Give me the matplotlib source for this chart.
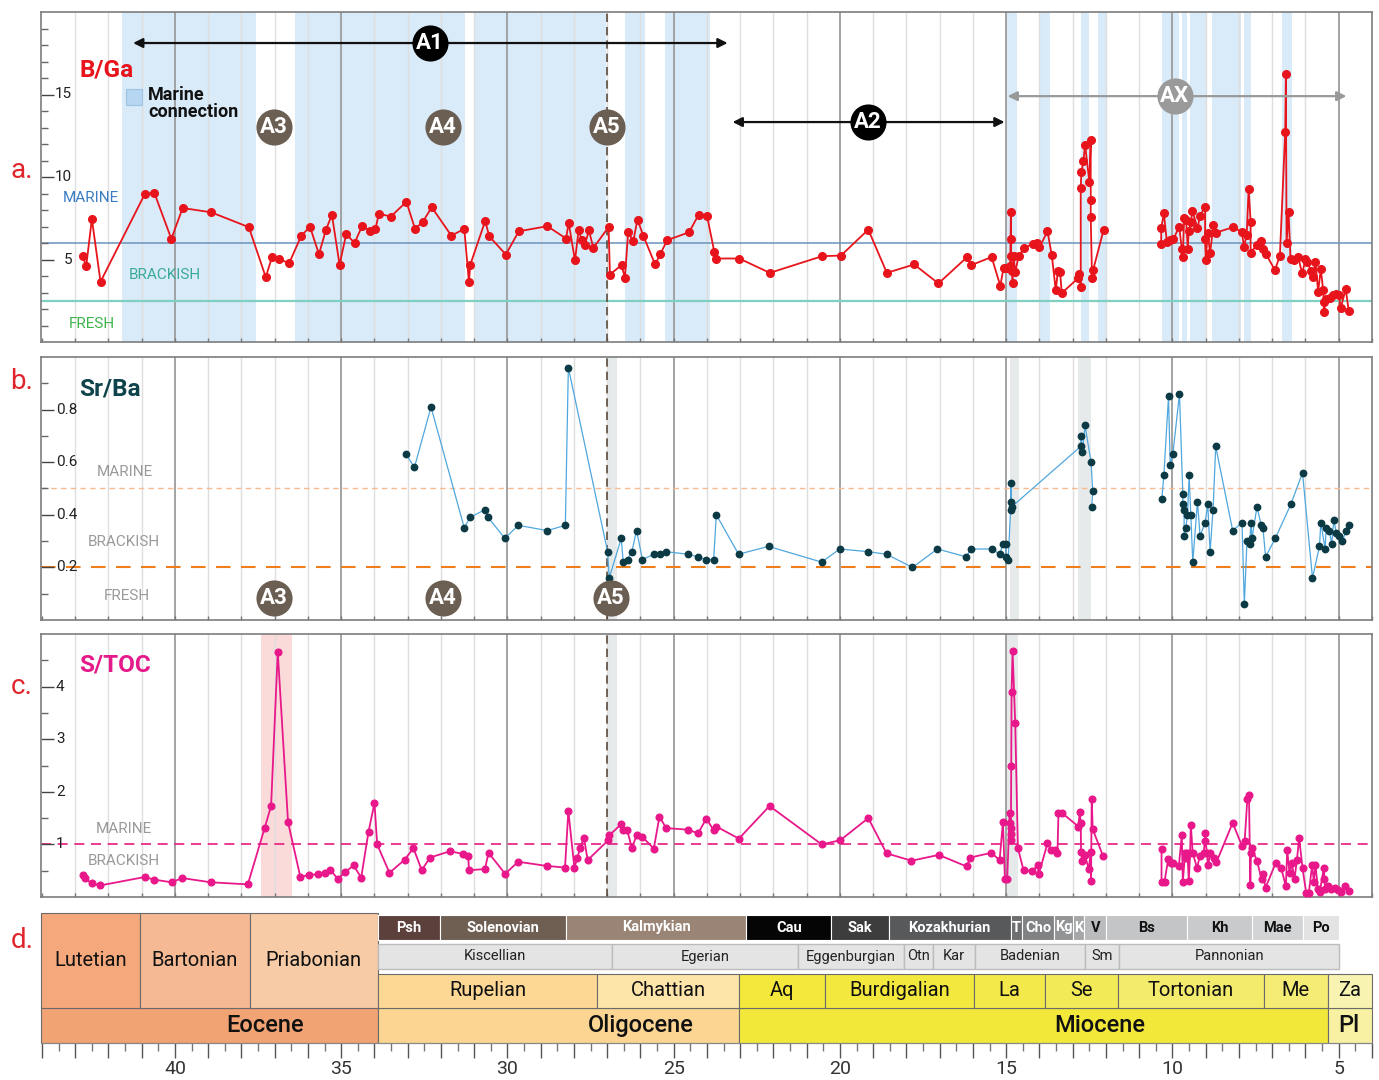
import numpy as np
import matplotlib
matplotlib.use("Agg")
import matplotlib.pyplot as plt
from matplotlib.patches import Rectangle
from matplotlib.ticker import FixedLocator, MultipleLocator, NullFormatter, FuncFormatter

plt.rcParams['font.family'] = ['Roboto', 'DejaVu Sans']

# ---------------- DATA ----------------
# Panel a: B/Ga (age Ma, value)
bga_age = [
    42.78, 42.67, 42.50, 42.24, 40.90, 40.62, 40.11, 39.77, 38.91, 37.78,
    37.27, 37.08, 36.88, 36.57, 36.20, 35.94, 35.67, 35.46, 35.28, 35.05,
    34.85, 34.60, 34.37, 34.14, 33.97, 33.87, 33.51, 33.04, 32.78, 32.54,
    32.28, 31.69, 31.30, 31.16, 31.12, 30.67, 30.55, 30.05, 29.66, 28.80,
    28.24, 28.16, 27.97, 27.86, 27.77, 27.68, 27.55, 27.42, 26.96, 26.92,
    26.57, 26.47, 26.37, 26.22, 26.09, 25.91, 25.56, 25.40, 25.20, 24.54,
    24.25, 24.00, 23.78, 23.72, 23.03, 22.11, 20.54, 19.97, 19.15, 18.59,
    17.77, 17.04, 16.18, 16.05, 15.44, 15.18, 15.08, 14.98, 14.88, 14.86,
    14.86, 14.86, 14.83, 14.81, 14.78, 14.73, 14.63, 14.46, 14.20, 14.08,
    14.00, 13.76, 13.63, 13.51, 13.45, 13.38, 13.33, 12.83, 12.80, 12.76,
    12.76, 12.74, 12.68, 12.63, 12.50, 12.46, 12.46, 12.46, 12.42, 12.39,
    12.07,
    10.34, 10.34, 10.26, 10.17, 10.09, 9.97, 9.80, 9.72, 9.69, 9.65,
    9.59, 9.54, 9.51, 9.45, 9.40, 9.25, 9.17, 9.02, 9.02, 9.00,
    8.94, 8.87, 8.77, 8.69, 8.19, 7.92, 7.85, 7.77, 7.71, 7.65,
    7.65, 7.47, 7.35, 7.27, 7.19, 6.92, 6.77, 6.61, 6.59, 6.57,
    6.51, 6.45, 6.34, 6.22, 6.10, 6.00, 5.94, 5.84, 5.77, 5.70,
    5.62, 5.54, 5.47, 5.45, 5.45, 5.37, 5.27, 5.17, 5.07, 5.00,
    4.94, 4.79, 4.70]
bga_val = [
    5.20, 4.60, 7.46, 3.65, 9.00, 9.03, 6.25, 8.12, 7.86, 6.96,
    3.93, 5.16, 5.06, 4.76, 6.45, 6.98, 5.32, 6.81, 7.70, 4.68,
    6.55, 6.00, 7.04, 6.75, 6.85, 7.78, 7.60, 8.50, 6.85, 7.30,
    8.17, 6.45, 6.85, 3.65, 4.68, 7.34, 6.41, 5.30, 6.71, 7.02,
    6.27, 7.22, 4.94, 6.81, 6.17, 5.85, 6.77, 5.70, 6.96, 4.09,
    4.66, 3.89, 6.69, 6.10, 7.42, 6.41, 4.70, 5.34, 6.17, 6.65,
    7.72, 7.66, 5.46, 5.06, 5.06, 4.19, 5.20, 5.24, 6.81, 4.19,
    4.70, 3.55, 5.14, 4.66, 5.15, 3.41, 4.48, 4.48, 4.59, 7.88,
    6.24, 5.19, 4.28, 3.58, 5.19, 4.22, 5.19, 5.70, 5.96, 6.00,
    5.74, 6.71, 5.25, 3.13, 4.28, 4.22, 2.97, 3.88, 4.14, 3.31,
    9.33, 10.30, 10.95, 11.96, 9.70, 12.26, 8.59, 7.58, 3.88, 4.34,
    6.81,
    5.92, 6.89, 7.80, 6.08, 6.18, 6.24, 6.99, 5.64, 5.17, 7.49,
    7.39, 5.62, 6.75, 7.25, 7.96, 6.89, 7.66, 8.20, 6.24, 4.97,
    6.63, 5.37, 7.09, 6.63, 6.95, 6.69, 5.78, 6.48, 9.27, 7.29,
    5.41, 5.88, 6.14, 5.62, 5.33, 4.36, 5.23, 12.75, 16.24, 5.98,
    7.90, 5.01, 4.97, 5.13, 4.16, 5.01, 4.87, 4.30, 3.92, 4.87,
    3.05, 4.42, 3.15, 2.44, 1.84, 2.59, 2.69, 2.85, 2.89, 2.85,
    2.08, 3.19, 1.90]

# Panel b: Sr/Ba
srba_age = [
    33.05, 32.80, 32.30, 31.30, 31.13, 30.67, 30.58, 30.08, 29.68, 28.80,
    28.26, 28.17, 26.99, 26.94, 26.58, 26.52, 26.39, 26.26, 26.12, 25.94,
    25.60, 25.42, 25.24, 24.57, 24.27, 24.02, 23.80, 23.72, 23.05, 22.15,
    20.55, 20.01, 19.17, 18.60, 17.82, 17.07, 16.20, 16.07, 15.44, 15.19,
    15.11, 15.02, 15.00, 14.94, 14.87, 14.86, 14.85, 14.84, 12.76, 12.75,
    12.71, 12.63, 12.45, 12.40, 12.43,
    10.32, 10.26, 10.12, 10.07, 9.99, 9.79, 9.69, 9.69, 9.65, 9.65,
    9.60, 9.55, 9.50, 9.45, 9.39, 9.25, 9.17, 9.02, 8.94, 8.87,
    8.78, 8.70, 8.19, 7.91, 7.84, 7.76, 7.68, 7.64, 7.61, 7.46,
    7.33, 7.28, 7.20, 6.91, 6.44, 6.09, 5.79, 5.58, 5.54, 5.41,
    5.38, 5.29, 5.21, 5.15, 5.07, 4.99, 4.90, 4.77, 4.68]
srba_val = [
    0.63, 0.58, 0.81, 0.35, 0.39, 0.42, 0.39, 0.31, 0.36, 0.34,
    0.36, 0.96, 0.26, 0.16, 0.31, 0.22, 0.23, 0.26, 0.34, 0.23,
    0.25, 0.25, 0.26, 0.25, 0.24, 0.23, 0.23, 0.40, 0.25, 0.28,
    0.22, 0.27, 0.26, 0.25, 0.20, 0.27, 0.24, 0.27, 0.27, 0.25,
    0.29, 0.29, 0.24, 0.23, 0.42, 0.52, 0.45, 0.43, 0.66, 0.70,
    0.64, 0.74, 0.60, 0.49, 0.43,
    0.46, 0.55, 0.85, 0.59, 0.63, 0.86, 0.48, 0.44, 0.42, 0.32,
    0.35, 0.40, 0.55, 0.40, 0.22, 0.45, 0.32, 0.37, 0.44, 0.26,
    0.42, 0.66, 0.34, 0.37, 0.06, 0.30, 0.29, 0.37, 0.31, 0.43,
    0.36, 0.35, 0.24, 0.31, 0.44, 0.56, 0.16, 0.28, 0.37, 0.27,
    0.35, 0.34, 0.29, 0.38, 0.33, 0.32, 0.30, 0.34, 0.36]

# Panel c: S/TOC
stoc_age = [
    42.78, 42.70, 42.51, 42.25, 40.91, 40.63, 40.10, 39.78, 38.93, 37.81,
    37.30, 37.11, 36.91, 36.60, 36.23, 35.98, 35.71, 35.48, 35.33, 35.10,
    34.89, 34.63, 34.40, 34.18, 34.00, 33.92, 33.55, 33.09, 32.83, 32.58,
    32.33, 31.73, 31.35, 31.18, 31.16, 30.68, 30.57, 30.07, 29.68, 28.81,
    28.27, 28.17, 27.99, 27.90, 27.81, 27.70, 27.59, 26.97, 26.94, 26.59,
    26.52, 26.40, 26.26, 26.12, 25.94, 25.60, 25.43, 25.23, 24.57, 24.27,
    24.02, 23.80, 23.72, 23.04, 22.12, 20.55, 19.99, 19.15, 18.60, 17.85,
    17.03, 16.19, 16.08, 15.45, 15.20, 15.10, 15.04, 14.97, 14.90, 14.88,
    14.87, 14.87, 14.86, 14.85, 14.84, 14.81, 14.73, 14.65, 14.48, 14.22,
    14.06, 14.02, 13.76, 13.64, 13.52, 13.46, 13.43, 13.31, 12.83, 12.79,
    12.76, 12.75, 12.72, 12.63, 12.52, 12.46, 12.45, 12.43, 12.40, 12.09,
    10.33, 10.33, 10.24, 10.13, 10.04, 9.97, 9.81, 9.72, 9.69, 9.62,
    9.59, 9.55, 9.51, 9.47, 9.45, 9.39, 9.26, 9.18, 9.06, 9.01,
    9.01, 8.96, 8.93, 8.86, 8.76, 8.68, 8.19, 7.91, 7.83, 7.75,
    7.70, 7.66, 7.64, 7.62, 7.46, 7.32, 7.28, 7.20, 6.90, 6.73,
    6.59, 6.55, 6.48, 6.41, 6.33, 6.26, 6.19, 6.09, 5.98, 5.90,
    5.80, 5.75, 5.70, 5.63, 5.57, 5.45, 5.43, 5.41, 5.32, 5.22,
    5.12, 5.02, 4.92, 4.80, 4.70]
stoc_val = [
    0.42, 0.36, 0.26, 0.22, 0.38, 0.33, 0.28, 0.36, 0.28, 0.24,
    1.32, 1.73, 4.66, 1.42, 0.38, 0.42, 0.43, 0.46, 0.52, 0.34,
    0.47, 0.60, 0.37, 1.24, 1.79, 1.00, 0.46, 0.71, 0.93, 0.51,
    0.75, 0.87, 0.82, 0.77, 0.51, 0.53, 0.84, 0.44, 0.67, 0.59,
    0.56, 1.64, 0.56, 0.74, 0.94, 1.13, 0.70, 1.08, 1.17, 1.38,
    1.27, 1.27, 0.93, 1.17, 1.14, 0.92, 1.53, 1.31, 1.28, 1.21,
    1.49, 1.27, 1.34, 1.11, 1.73, 1.00, 1.08, 1.50, 0.83, 0.69,
    0.80, 0.58, 0.75, 0.84, 0.70, 1.42, 0.35, 0.35, 1.59, 1.40,
    1.31, 1.20, 1.08, 2.50, 3.90, 4.68, 3.30, 0.93, 0.51, 0.49,
    0.60, 0.44, 1.02, 0.89, 0.89, 0.83, 1.59, 1.59, 1.34, 1.62,
    1.41, 0.85, 0.69, 0.79, 0.53, 0.85, 0.31, 1.86, 1.29, 0.78,
    0.91, 0.29, 0.29, 0.72, 0.64, 0.64, 0.58, 1.18, 0.29, 0.84,
    0.74, 0.84, 0.31, 0.84, 1.37, 0.83, 0.55, 0.78, 0.83, 1.21,
    1.07, 0.83, 0.60, 0.83, 0.75, 0.66, 1.41, 0.97, 1.06, 1.86,
    1.93, 0.23, 0.84, 0.94, 0.69, 0.34, 0.43, 0.18, 0.64, 0.55,
    0.20, 0.89, 0.45, 0.64, 0.34, 0.70, 1.12, 0.55, 0.08, 0.08,
    0.61, 0.29, 0.61, 0.16, 0.10, 0.55, 0.34, 0.16, 0.20, 0.16,
    0.18, 0.13, 0.09, 0.20, 0.11]

# Shaded intervals (Ma)
marine_bands = [(41.60, 37.55), (36.38, 31.27), (30.97, 27.03), (26.48, 25.85),
                (25.25, 23.90), (14.98, 14.67), (13.98, 13.68), (12.75, 12.50),
                (12.23, 12.00), (10.32, 9.80), (9.72, 9.55), (9.47, 8.97),
                (8.80, 7.93), (7.86, 7.65), (6.71, 6.40)]
srba_bands = [(27.00, 26.72), (14.90, 14.62), (12.85, 12.45)]
stoc_grey_bands = [(27.00, 26.70), (15.00, 14.64)]
stoc_pink_bands = [(37.40, 36.48)]

# Threshold lines
bga_marine, bga_fresh = 6.0, 2.5
srba_marine, srba_fresh = 0.5, 0.2
stoc_marine = 1.0

# Geological timescale
epochs = ["Eocene", "Oligocene", "Miocene", "Pl"]
epoch_bounds = [(44.03, 33.90), (33.90, 23.03), (23.03, 5.33), (5.33, 4.00)]
epoch_colors = ["#f2a373", "#fdd592", "#f2e83a", "#f8f1a4"]
epoch_label_x = [37.3, 26.0, 12.2, 4.7]

eo_stages = ["Lutetian", "Bartonian", "Priabonian"]
eo_bounds = [(44.03, 41.05), (41.05, 37.75), (37.75, 33.90)]
eo_colors = ["#f4a87c", "#f5b993", "#f7cba5"]

stages = ["Rupelian", "Chattian", "Aq", "Burdigalian", "La", "Se", "Tortonian", "Me", "Za"]
stage_bounds = [(33.90, 27.30), (27.30, 23.03), (23.03, 20.44), (20.44, 15.98), (15.98, 13.82),
                (13.82, 11.63), (11.63, 7.25), (7.25, 5.33), (5.33, 4.00)]
stage_colors = ["#fdd895", "#fde5aa", "#f3e83b", "#f3e83d", "#f3e94b",
                "#f3ea57", "#f3eb6c", "#f4ec74", "#f9f3b2"]

east_stages = ["Psh", "Solenovian", "Kalmykian", "Cau", "Sak", "Kozakhurian", "T", "Cho",
               "Kg", "K", "V", "Bs", "Kh", "Mae", "Po"]
east_bounds = [(33.90, 32.03), (32.03, 28.23), (28.23, 22.82), (22.82, 20.26), (20.26, 18.54),
               (18.54, 14.87), (14.87, 14.53), (14.53, 13.55), (13.55, 12.99), (12.99, 12.65),
               (12.65, 11.99), (11.99, 9.56), (9.56, 7.60), (7.60, 6.07), (6.07, 4.98)]
east_colors = ["#5b403c", "#6f5f53", "#9a8475", "#050505", "#3d3d3d", "#57595b", "#6d6e70",
               "#808284", "#929496", "#a5a7a9", "#b9bbbc", "#c3c5c6", "#c8cacb", "#d3d4d5",
               "#e3e3e3"]
east_text = ["w", "w", "w", "w", "w", "w", "w", "w", "w", "w", "k", "k", "k", "k", "k"]

cent_stages = ["Kiscellian", "Egerian", "Eggenburgian", "Otn", "Kar", "Badenian", "Sm", "Pannonian"]
cent_bounds = [(33.90, 26.86), (26.86, 21.26), (21.26, 18.09), (18.09, 17.19), (17.19, 15.94),
               (15.94, 12.63), (12.63, 11.60), (11.60, 4.98)]

for a, b in [(bga_age, bga_val), (srba_age, srba_val), (stoc_age, stoc_val)]:
    assert len(a) == len(b)

GAP_AGE = 11.0   # no samples between the two sections
XLIM = (44.03, 4.0)

RED = "#e8141c"
PANEL_LABEL = "#e0262c"

# ---------------- FIGURE ----------------
W, H = 1379, 1080
fig = plt.figure(figsize=(W / 100, H / 100), dpi=100)


def px_axes(x0, y0, x1, y1):
    return fig.add_axes([x0 / W, 1 - y1 / H, (x1 - x0) / W, (y1 - y0) / H])


ax_a = px_axes(41, 12, 1372, 342)
ax_b = px_axes(41, 357, 1372, 620)
ax_c = px_axes(41, 634, 1372, 897)
ax_d = px_axes(41, 913, 1372, 1043)


def with_gap(age, val):
    age = np.asarray(age, float)
    val = np.asarray(val, float)
    idx = np.where((age[:-1] > GAP_AGE) & (age[1:] < GAP_AGE))[0]
    return np.insert(age, idx + 1, np.nan), np.insert(val, idx + 1, np.nan)


def base_panel(ax, ylim, major, minor, lab_x, lab_ha):
    ax.set_xlim(*XLIM)
    ax.set_ylim(*ylim)
    for m in range(5, 44):
        if m % 5 == 0:
            ax.axvline(m, color="#9c9c9c", lw=1.3, zorder=0.6)
        else:
            ax.axvline(m, color="#dedede", lw=1.0, zorder=0.5)
    for s in ax.spines.values():
        s.set_color("#7d7d7d")
        s.set_linewidth(1.2)
    ax.yaxis.set_major_locator(FixedLocator(major))
    ax.yaxis.set_minor_locator(FixedLocator(minor))
    ax.yaxis.set_major_formatter(NullFormatter())
    ax.tick_params(axis="y", which="major", direction="in", length=9, width=1, color="#444")
    ax.tick_params(axis="y", which="minor", direction="in", length=5, width=1, color="#666")
    ax.xaxis.set_major_locator(MultipleLocator(1))
    ax.xaxis.set_major_formatter(NullFormatter())
    ax.tick_params(axis="x", which="major", direction="in", length=3, width=1, color="#777")
    for v in major:
        lab = f"{v:g}" if ylim[1] > 1.5 else f"{v:.1f}"
        ax.text(lab_x, v, lab, transform=ax.get_yaxis_transform(), ha=lab_ha, va="center",
                fontsize=11, color="#222", zorder=5)


def circle_label(ax, x, y, text, fc, size=26, fs=16):
    ax.plot([x], [y], marker="o", ms=size, mfc=fc, mec="none", zorder=8, clip_on=False)
    ax.text(x, y, text, ha="center", va="center", color="white", fontsize=fs,
            fontweight="bold", zorder=9)


def double_arrow(ax, x0, x1, y, color):
    ax.annotate("", xy=(x1, y), xytext=(x0, y),
                arrowprops=dict(arrowstyle="<|-|>", color=color, lw=1.6, mutation_scale=14,
                                shrinkA=0, shrinkB=0), zorder=7)


# ---------- panel a ----------
base_panel(ax_a, (0, 20), [5, 10, 15], [v for v in range(1, 20) if v % 5], 0.0235, "right")
for x0, x1 in marine_bands:
    ax_a.axvspan(x0, x1, color="#d9eaf8", lw=0, zorder=0.2)
ax_a.axhline(bga_marine, color="#6b93bd", lw=1.1, zorder=1)
ax_a.axhline(bga_fresh, color="#80d0c2", lw=1.6, zorder=1)
xa, ya = with_gap(bga_age, bga_val)
ax_a.plot(xa, ya, color=RED, lw=1.3, marker="o", ms=5.5, mfc=RED, mec=RED, zorder=4)

ax_a.text(42.88, 16.5, "B/Ga", color=RED, fontsize=17.5, fontweight="bold", va="center", ha="left")
ax_a.add_patch(Rectangle((40.99, 14.36), 0.48, 0.97, fc="#b6d6f1", ec="#9cc3e4", lw=0.8, zorder=6))
ax_a.text(40.81, 15.5, "Marine\nconnection", fontsize=13, fontweight="bold", va="top", ha="left",
          linespacing=0.9, color="#111", zorder=6)
ax_a.text(42.52, 8.73, "MARINE", color="#3b7dc4", fontsize=11, ha="center", va="center")
ax_a.text(40.3, 4.06, "BRACKISH", color="#3aaa9b", fontsize=11, ha="center", va="center")
ax_a.text(42.5, 1.09, "FRESH", color="#3db54a", fontsize=11, ha="center", va="center")

double_arrow(ax_a, 41.26, 23.38, 18.12, "#111")
circle_label(ax_a, 32.33, 18.12, "A1", "#000000")
double_arrow(ax_a, 23.23, 15.05, 13.33, "#111")
circle_label(ax_a, 19.16, 13.33, "A2", "#000000")
double_arrow(ax_a, 14.96, 4.77, 14.9, "#999999")
circle_label(ax_a, 9.93, 14.9, "AX", "#9a9a9a")
for x, t in [(37.02, "A3"), (31.94, "A4"), (27.01, "A5")]:
    circle_label(ax_a, x, 13.03, t, "#6b5e52")

# ---------- panel b ----------
base_panel(ax_b, (0, 1), [0.2, 0.4, 0.6, 0.8], [0.1, 0.3, 0.5, 0.7, 0.9], 0.0113, "left")
for x0, x1 in srba_bands:
    ax_b.axvspan(x0, x1, color="#e6eaea", lw=0, zorder=0.2)
ax_b.axhline(srba_marine, color="#f7bb8f", lw=1.0, ls=(0, (4, 3)), zorder=1)
ax_b.axhline(srba_fresh, color="#ee7d1c", lw=1.5, ls=(0, (7, 5)), zorder=1)
xb, yb = with_gap(srba_age, srba_val)
ax_b.plot(xb, yb, color="#4fa7de", lw=0.9, zorder=3)
ax_b.plot(srba_age, srba_val, ls="none", marker="o", ms=4.6, mfc="#0b3a45", mec="#0b3a45", zorder=4)
ax_b.text(42.88, 0.878, "Sr/Ba", color="#0f434b", fontsize=17.5, fontweight="bold", va="center", ha="left")
ax_b.text(41.5, 0.562, "MARINE", color="#9a9a9a", fontsize=11, ha="center", va="center")
ax_b.text(41.53, 0.296, "BRACKISH", color="#9a9a9a", fontsize=11, ha="center", va="center")
ax_b.text(41.44, 0.091, "FRESH", color="#9a9a9a", fontsize=11, ha="center", va="center")
for x, t in [(37.02, "A3"), (31.94, "A4"), (26.89, "A5")]:
    circle_label(ax_b, x, 0.083, t, "#6b5e52")

# ---------- panel c ----------
base_panel(ax_c, (0, 5), [1, 2, 3, 4], [0.5, 1.5, 2.5, 3.5, 4.5], 0.0113, "left")
for x0, x1 in stoc_grey_bands:
    ax_c.axvspan(x0, x1, color="#e6eaea", lw=0, zorder=0.2)
for x0, x1 in stoc_pink_bands:
    ax_c.axvspan(x0, x1, color="#fbdada", lw=0, zorder=0.2)
ax_c.axhline(stoc_marine, color="#e8197f", lw=1.2, ls=(0, (6, 4)), zorder=1)
PINK = "#e8188a"
xc, yc = with_gap(stoc_age, stoc_val)
ax_c.plot(xc, yc, color=PINK, lw=1.3, marker="o", ms=4.8, mfc=PINK, mec=PINK, zorder=4)
ax_c.text(42.88, 4.41, "S/TOC", color="#e5198a", fontsize=17.5, fontweight="bold", va="center", ha="left")
ax_c.text(41.53, 1.29, "MARINE", color="#9a9a9a", fontsize=11, ha="center", va="center")
ax_c.text(41.53, 0.68, "BRACKISH", color="#9a9a9a", fontsize=11, ha="center", va="center")

# dashed A5 line through a-c
for ax in (ax_a, ax_b, ax_c):
    ax.axvline(27.02, color="#5a4a3c", lw=1.2, ls=(0, (5, 3)), zorder=2)

# ---------- panel d: time scale ----------
ax_d.set_xlim(*XLIM)
ax_d.set_ylim(0, 130)
for k in ("top", "left", "right"):
    ax_d.spines[k].set_visible(False)
ax_d.spines["bottom"].set_color("#888")
ax_d.set_yticks([])
ax_d.xaxis.set_major_locator(MultipleLocator(1))
ax_d.xaxis.set_minor_locator(MultipleLocator(0.5))
ax_d.xaxis.set_major_formatter(FuncFormatter(lambda v, p: f"{v:.0f}" if abs(v % 5) < 1e-6 else ""))
ax_d.tick_params(axis="x", which="major", length=11, width=1, color="#555", labelsize=14,
                 labelcolor="#333", pad=1.5)
ax_d.tick_params(axis="x", which="minor", length=6, width=1, color="#777")


def box(x0, x1, y0, y1, fc, ec, lw, text=None, tx=None, fs=10, color="#111", weight="normal"):
    ax_d.add_patch(Rectangle((x1, y0), x0 - x1, y1 - y0, fc=fc, ec=ec, lw=lw, zorder=1, clip_on=False))
    if text:
        ax_d.text((x0 + x1) / 2 if tx is None else tx, (y0 + y1) / 2, text, ha="center", va="center",
                  fontsize=fs, color=color, fontweight=weight, zorder=2)


for name, (x0, x1), c, tx in zip(epochs, epoch_bounds, epoch_colors, epoch_label_x):
    box(x0, x1, 0, 35, c, "#6b6b6b", 0.8, name, tx=tx, fs=17, weight="medium")
for name, (x0, x1), c in zip(eo_stages, eo_bounds, eo_colors):
    box(x0, x1, 35, 130, c, "#6b6b6b", 0.8, name, fs=14.5)
for name, (x0, x1), c in zip(stages, stage_bounds, stage_colors):
    box(x0, x1, 35, 69, c, "#6b6b6b", 0.8, name, fs=14.5)
for name, (x0, x1), c, tc in zip(east_stages, east_bounds, east_colors, east_text):
    box(x0, x1, 103, 128, c, "white", 0.8, name, fs=10.5, color="white" if tc == "w" else "#111",
        weight="bold")
for name, (x0, x1) in zip(cent_stages, cent_bounds):
    box(x0, x1, 74, 99, "#e4e4e4", "#bcbcbc", 1.0, name, fs=10.5, color="#222")

# panel letters
for lab, y in [("a.", 170), ("b.", 382), ("c.", 687), ("d.", 941)]:
    fig.text(22 / W, 1 - y / H, lab, color=PANEL_LABEL, fontsize=20, ha="center", va="center")

fig.savefig("out.png", dpi=100)
